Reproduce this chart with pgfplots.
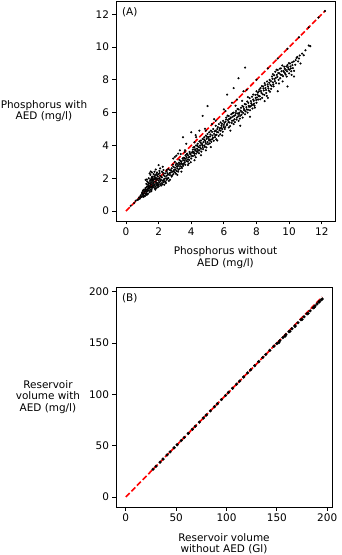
\documentclass[border=0pt]{standalone}
\usepackage{fontspec}
\setmainfont{DejaVu Sans}
\usepackage{pgfplots}
\usepackage{pgfplotstable}
\pgfplotsset{compat=1.18}

% panel A: phosphorus with / without AED
\pgfplotstableread{
x y
0.30 0.32
0.50 0.48
0.60 0.62
0.70 0.68
0.80 0.83
0.90 0.87
1.00 1.02
1.10 1.08
1.20 1.22
2.50 2.50
3.00 3.00
3.60 3.60
4.20 4.20
4.90 4.90
5.50 5.50
6.10 6.10
6.80 6.80
7.40 7.40
8.00 8.00
8.70 8.70
9.30 9.30
9.90 9.90
10.60 10.60
11.20 11.20
11.80 11.80
12.20 12.20
0.85 0.75
0.90 0.95
0.95 0.85
1.00 0.90
1.00 1.15
1.05 1.00
1.10 1.30
1.10 0.95
1.15 1.20
1.20 1.05
1.20 1.40
1.25 1.30
1.25 1.10
1.30 1.50
1.30 1.20
1.30 1.80
1.35 1.35
1.35 1.60
1.40 1.25
1.40 1.70
1.40 2.00
1.45 1.45
1.45 1.15
1.50 1.60
1.50 1.30
1.50 1.90
1.50 2.20
1.55 1.50
1.55 1.75
1.60 1.40
1.60 1.65
1.60 2.10
1.65 1.55
1.65 1.85
1.70 1.45
1.70 1.70
1.70 2.25
1.75 1.60
1.75 1.95
1.80 1.50
1.80 1.80
1.80 2.20
1.85 1.65
1.85 2.00
1.90 1.55
1.90 1.90
1.90 2.35
1.95 1.70
1.95 2.10
2.00 1.60
2.00 1.85
2.00 2.25
2.00 2.80
2.05 1.75
2.05 2.00
2.10 1.65
2.10 2.15
2.10 2.60
2.15 1.90
2.20 1.70
2.20 2.05
2.20 2.40
2.25 1.85
2.30 1.75
2.30 2.20
2.35 1.95
2.40 1.80
2.40 2.30
2.45 2.00
2.50 1.90
2.50 2.15
2.55 2.30
2.60 2.00
2.60 2.55
1.20 1.90
1.45 2.30
1.60 2.35
1.75 2.40
1.30 1.00
1.55 1.20
1.85 1.40
2.15 1.55
2.35 1.60
2.70 1.90
2.25 2.70
2.05 2.45
1.65 2.00
1.05 1.25
1.15 0.90
0.75 0.70
1.40 1.55
1.55 1.95
1.70 1.90
1.95 1.45
1.25 1.65
1.35 1.05
1.60 1.85
1.80 1.30
2.30 2.50
2.45 1.70
1.12 1.17
1.18 1.33
1.23 0.98
1.27 1.46
1.33 1.27
1.37 1.72
1.42 1.38
1.47 1.83
1.52 1.44
1.57 1.29
1.58 2.04
1.63 1.47
1.67 1.76
1.72 1.58
1.73 2.12
1.78 1.37
1.82 1.96
1.87 1.74
1.88 2.27
1.93 1.62
1.97 1.98
2.02 1.52
2.07 2.31
2.12 1.83
2.17 2.08
2.23 1.62
2.27 2.34
2.32 1.88
2.38 2.12
2.43 1.76
2.48 2.41
2.53 1.98
2.58 2.22
2.63 1.84
1.48 1.68
1.62 1.92
1.78 2.06
1.92 2.18
2.08 1.94
1.38 1.47
1.52 2.41
1.83 2.53
1.28 1.92
0.98 1.08
1.07 0.86
2.70 2.20
2.70 2.50
2.75 2.35
2.80 2.10
2.80 2.60
2.85 2.40
2.90 2.25
2.90 2.70
2.95 2.50
3.00 2.35
3.00 2.65
3.05 2.80
3.10 2.45
3.10 2.90
3.15 2.60
3.20 2.40
3.20 2.75
3.25 2.95
3.30 2.60
3.30 2.85
3.35 3.05
3.40 2.70
3.40 3.00
3.45 2.85
3.50 3.10
3.50 2.75
3.55 3.25
3.60 2.95
3.60 3.20
3.65 3.40
3.70 3.05
3.70 3.30
3.75 3.50
3.80 3.15
3.80 3.40
3.85 2.90
3.90 3.30
3.90 3.60
3.95 3.45
4.00 3.20
3.00 3.30
3.20 3.50
3.50 4.50
3.70 4.10
2.90 3.20
3.30 3.70
3.40 2.40
3.80 2.80
3.15 2.20
2.67 2.31
2.78 2.47
2.83 2.18
2.87 2.83
2.93 2.41
3.02 2.53
3.07 2.27
3.12 2.71
3.18 2.86
3.23 2.52
3.27 3.12
3.32 2.73
3.38 2.91
3.43 2.62
3.47 3.21
3.53 2.88
3.58 3.07
3.63 2.82
3.67 3.18
3.72 3.46
3.78 3.02
3.83 3.27
3.88 3.11
3.93 3.52
3.97 2.98
3.36 3.48
3.62 3.71
3.09 3.38
4.05 3.55
4.10 3.35
4.10 3.75
4.15 3.60
4.20 3.40
4.20 3.90
4.25 3.70
4.30 3.50
4.30 4.00
4.35 3.80
4.40 3.60
4.40 4.10
4.45 3.90
4.50 3.70
4.50 4.25
4.55 4.00
4.60 3.80
4.60 4.30
4.65 4.10
4.70 3.90
4.70 4.40
4.75 4.20
4.80 4.00
4.80 4.50
4.85 4.30
4.90 4.10
4.90 4.60
4.95 4.40
5.00 4.20
5.00 4.70
5.05 4.50
5.10 4.30
5.10 4.80
5.15 4.55
5.20 4.35
5.20 4.90
5.30 4.60
5.30 4.40
5.35 5.00
5.40 4.70
5.45 4.50
5.50 4.90
5.50 5.20
5.55 4.65
5.60 5.00
5.65 4.80
5.70 5.30
5.75 5.05
5.80 4.90
5.80 5.40
5.85 5.20
5.90 5.00
5.95 5.50
6.00 5.25
4.30 4.50
4.00 4.80
4.50 4.90
4.70 5.80
5.00 6.40
4.60 3.40
5.20 3.90
4.90 3.70
5.60 4.30
5.90 4.60
4.20 3.10
5.40 5.60
4.03 3.37
4.08 3.62
4.13 3.88
4.18 3.52
4.23 3.77
4.28 3.28
4.33 3.63
4.38 3.97
4.42 3.72
4.48 3.52
4.53 3.88
4.57 4.17
4.62 3.62
4.68 4.02
4.73 3.77
4.78 4.36
4.83 3.92
4.88 4.21
4.93 3.88
4.97 4.53
5.03 4.07
5.08 4.38
5.13 4.12
5.18 4.67
5.23 4.22
5.28 4.83
5.33 4.47
5.38 4.28
5.43 4.86
5.48 4.62
5.53 4.38
5.58 4.82
5.63 5.12
5.68 4.58
5.73 4.93
5.78 4.68
5.83 5.07
5.88 5.32
5.93 4.83
5.98 5.12
4.27 4.63
4.84 5.02
5.27 5.31
6.05 5.00
6.10 5.45
6.15 5.70
6.20 5.30
6.25 5.55
6.30 5.10
6.30 5.80
6.35 5.40
6.40 5.65
6.45 5.90
6.50 5.50
6.55 5.75
6.60 5.30
6.60 6.00
6.65 5.60
6.70 5.85
6.75 6.10
6.80 5.70
6.85 5.95
6.90 5.50
6.90 6.20
6.95 6.00
7.00 5.80
7.05 6.30
7.10 6.05
7.15 5.70
7.20 6.35
7.25 6.15
7.30 5.90
7.35 6.50
7.40 6.20
7.45 6.00
7.50 6.60
7.55 6.35
7.60 6.15
7.65 6.70
7.70 6.45
7.75 6.25
7.80 6.80
7.85 6.55
7.90 6.30
7.95 6.90
8.00 6.60
6.20 7.10
6.60 7.50
6.90 8.10
7.30 8.75
6.40 4.90
7.00 5.20
7.60 5.75
6.00 6.20
6.50 6.60
7.20 7.30
8.00 7.30
7.80 7.10
6.03 5.38
6.08 5.12
6.13 5.58
6.18 5.23
6.23 5.82
6.28 5.42
6.33 5.62
6.38 5.18
6.43 5.71
6.48 5.37
6.53 5.96
6.58 5.52
6.63 5.81
6.68 5.42
6.73 5.97
6.78 5.58
6.83 6.22
6.88 5.78
6.93 5.92
6.98 5.63
7.03 6.12
7.08 5.87
7.13 6.41
7.18 5.98
7.23 6.23
7.28 6.52
7.33 6.08
7.38 6.33
7.43 6.68
7.48 6.18
7.53 6.42
7.58 6.88
7.63 6.38
7.68 6.57
7.73 6.97
7.78 6.48
7.83 6.72
7.88 6.42
7.93 7.08
7.98 6.77
6.72 6.42
7.12 6.72
7.47 6.95
8.05 7.10
8.10 6.80
8.15 7.30
8.20 7.00
8.25 7.50
8.30 7.20
8.35 6.90
8.40 7.60
8.45 7.35
8.50 6.70
8.50 7.80
8.55 7.50
8.60 7.20
8.65 7.90
8.70 7.60
8.75 7.35
8.80 8.00
8.85 7.70
8.90 7.45
8.95 8.20
9.00 7.85
9.00 8.35
9.05 7.60
9.10 8.05
9.15 8.50
9.20 7.80
9.25 8.30
9.30 7.30
9.30 8.60
9.35 8.00
9.40 8.40
9.45 8.10
9.50 8.70
9.55 8.30
9.60 7.90
9.65 8.55
9.70 8.80
9.75 8.40
9.80 8.60
9.85 8.20
9.90 8.90
9.95 8.65
10.00 8.40
10.05 9.00
10.10 8.70
10.15 8.30
10.20 8.90
10.30 8.55
10.40 9.20
10.50 9.40
10.60 9.30
10.70 9.00
11.00 9.80
11.30 10.05
11.20 10.10
10.90 9.50
10.30 8.20
9.90 7.60
8.70 6.90
8.03 6.92
8.08 7.22
8.13 7.02
8.18 7.42
8.23 6.82
8.28 7.32
8.33 7.62
8.38 7.12
8.43 7.47
8.48 7.08
8.53 7.68
8.58 7.38
8.63 7.02
8.68 7.72
8.73 7.48
8.78 7.82
8.83 7.27
8.88 7.92
8.93 7.62
8.98 8.07
9.03 7.72
9.08 8.28
9.13 7.92
9.18 8.12
9.23 8.62
9.28 8.18
9.33 8.42
9.38 7.78
9.43 8.68
9.48 8.32
9.53 8.52
9.58 8.88
9.63 8.22
9.68 8.48
9.73 8.68
9.78 8.32
9.83 8.82
9.88 8.52
9.93 8.77
9.98 9.02
10.03 8.62
10.08 8.82
10.13 8.52
10.18 9.07
10.23 8.72
10.28 9.12
10.38 8.92
10.45 9.33
10.55 9.12
10.65 9.48
10.80 9.60
}\tabA

% panel B: reservoir volume with / without AED
\pgfplotstableread{
x y
27 27.0
30 30.0
34 34.0
37 37.0
41 41.0
44 44.0
48 48.0
51 51.0
55 55.0
58 58.0
62 62.0
66 66.0
69 69.0
73 73.0
77 77.0
80 80.0
84 84.0
88 88.0
91 91.0
95 95.0
99 99.0
102 102.0
106 106.0
110 110.0
113 113.0
117 117.0
121 121.0
124 124.0
128 128.0
132 132.0
136 136.0
139 139.0
143 143.0
147 147.0
150 149.6
153 152.5
156 155.4
159 158.3
162 161.2
165 164.1
168 167.0
171 169.9
174 172.8
177 175.7
180 178.6
183 181.5
186 184.4
188 186.4
190 188.3
192 190.2
194 192.2
195 193.0
152 150.5
158 156.8
163 161.5
168 166.4
175 173.2
181 179.0
187 185.0
192 190.5
}\tabB

\newcommand{\figfont}{\fontsize{10.5}{11.5}\selectfont}

\pgfplotsset{
  panel/.style={
    scale only axis,
    anchor=south west,
    axis line style={line width=0.9bp},
    tick style={line width=0.9bp, black},
    tick align=outside,
    tick pos=left,
    major tick length=3.5bp,
    ticklabel style={font=\figfont},
    /pgf/number format/assume math mode=true,
    every axis x label/.style={at={(axis description cs:0.5,-0.166)}, anchor=center, align=center, font=\figfont},
  },
  ylab/.style={every axis y label/.style={at={(axis description cs:#1,0.5)}, anchor=center, align=center, font=\figfont}},
}

\begin{document}
\begin{tikzpicture}
\path[use as bounding box] (0,0) rectangle (342bp,555bp);

\begin{axis}[panel, ylab=-0.329,
    at={(116bp,334bp)},
    width=219bp, height=220bp,
    xmin=-0.61, xmax=12.81, ymin=-0.61, ymax=12.81,
    xtick={0,2,...,12}, ytick={0,2,...,12},
    xlabel={Phosphorus without\\AED (mg/l)},
    ylabel={Phosphorus with\\AED (mg/l)},
]
\addplot[only marks, mark=*, mark size=0.85bp, black] table[x=x, y=y] {\tabA};
\addplot[red, line width=1.6bp, dash pattern=on 5.5bp off 2.5bp] coordinates {(0,0) (12.2,12.2)};
\node[anchor=west, font=\figfont] at (axis description cs:0.012,0.95) {(A)};
\end{axis}

\begin{axis}[panel, ylab=-0.315,
    at={(116bp,48bp)},
    width=216bp, height=220bp,
    xmin=-9.75, xmax=204.75, ymin=-9.75, ymax=204.75,
    xtick={0,50,...,200}, ytick={0,50,...,200},
    xlabel={Reservoir volume\\without AED (Gl)},
    ylabel={Reservoir\\volume with\\AED (mg/l)},
]
\addplot[only marks, mark=*, mark size=1.4bp, black] table[x=x, y=y] {\tabB};
\addplot[red, line width=1.6bp, dash pattern=on 5.5bp off 2.5bp] coordinates {(0,0) (195,195)};
\node[anchor=west, font=\figfont] at (axis description cs:0.012,0.95) {(B)};
\end{axis}
\end{tikzpicture}
\end{document}
